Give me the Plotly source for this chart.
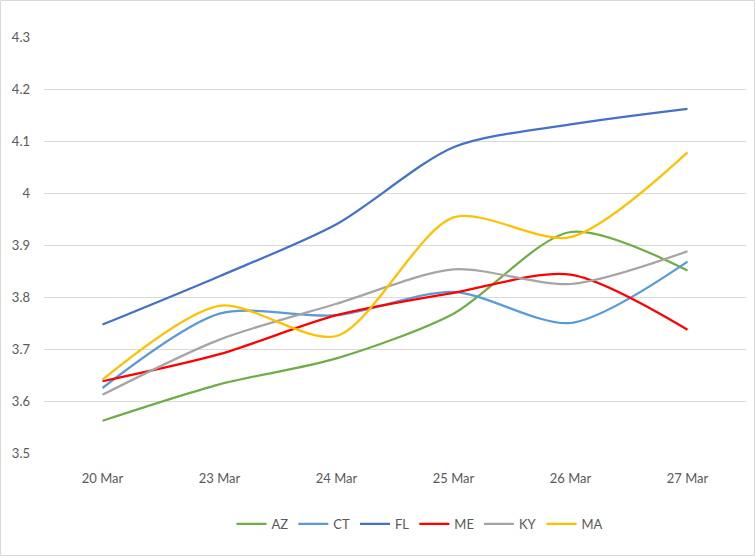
import plotly.graph_objects as go

dates = ["20 Mar", "23 Mar", "24 Mar", "25 Mar", "26 Mar", "27 Mar"]
az = [3.562, 3.632, 3.682, 3.768, 3.925, 3.851]
ct = [3.625, 3.768, 3.765, 3.810, 3.750, 3.868]
fl = [3.747, 3.840, 3.940, 4.088, 4.132, 4.162]
me = [3.638, 3.690, 3.765, 3.808, 3.843, 3.737]
ky = [3.612, 3.718, 3.787, 3.853, 3.825, 3.888]
ma = [3.641, 3.783, 3.725, 3.953, 3.915, 4.078]

series = [("AZ", az, "#70AD47"), ("CT", ct, "#5B9BD5"), ("FL", fl, "#4472C4"),
          ("ME", me, "#FF0000"), ("KY", ky, "#A5A5A5"), ("MA", ma, "#FFC000")]

fig = go.Figure()
for name, vals, col in series:
    fig.add_trace(go.Scatter(x=dates, y=vals, name=name, mode="lines",
                             line=dict(color=col, width=2.25, shape="spline", smoothing=0.8)))

W, H = 755, 556
L, R, T, B = 44, 9, 37, 103
pw, ph = W - L - R, H - T - B

fig.update_layout(
    width=W, height=H,
    margin=dict(l=L, r=R, t=T, b=B),
    paper_bgcolor="white", plot_bgcolor="white",
    font=dict(family="Lato, Open Sans, sans-serif", size=13, color="#595959"),
    xaxis=dict(type="category", range=[-0.5, 5.5], showgrid=False, zeroline=False,
               showline=False, ticks="", ticklabelstandoff=16),
    yaxis=dict(range=[3.5, 4.3], dtick=0.1, tickformat="~g", showgrid=True,
               gridcolor="#D9D9D9", gridwidth=1, zeroline=False, showline=False,
               ticks="", ticklabelstandoff=13),
    legend=dict(orientation="h", x=(420 - L) / pw, xanchor="center",
                y=-(524 - T - ph) / ph, yanchor="middle",
                font=dict(size=13, color="#595959"), itemwidth=30,
                tracegroupgap=0),
    showlegend=True,
    shapes=[dict(type="rect", xref="paper", yref="paper",
                 x0=(0.5 - L) / pw, x1=(W - 0.5 - L) / pw,
                 y0=-(H - 0.5 - T - ph) / ph, y1=(T - 0.5) / ph + 1,
                 line=dict(color="#D9D9D9", width=1), layer="below")],
)

fig.write_html("out.html", config={"displayModeBar": False},
               post_script="document.body.style.margin='0';document.body.style.padding='0';")
